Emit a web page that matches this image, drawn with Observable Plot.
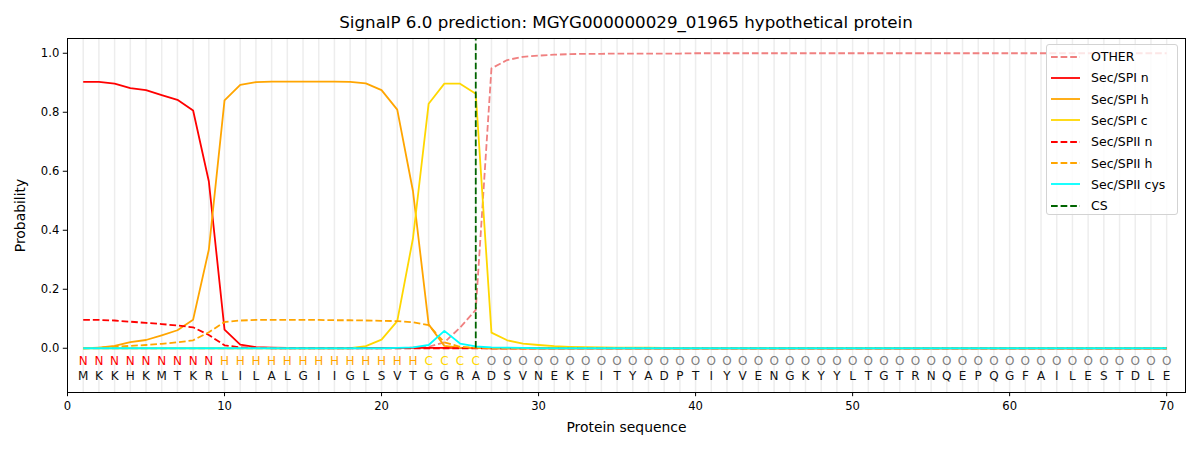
<!DOCTYPE html>
<html>
<head>
<meta charset="utf-8">
<script src="https://cdn.jsdelivr.net/npm/d3@7"></script>
<script src="https://cdn.jsdelivr.net/npm/@observablehq/plot@0.6"></script>
<style>
  body { margin: 0; background: white; font-family: "DejaVu Sans", sans-serif; }
  #wrap { position: relative; width: 1200px; height: 450px; }
  #title { box-sizing: border-box; height: 30px; padding-top: 14px; padding-left: 52px; width: 1200px;
           text-align: center; font-size: 16.7px; line-height: 16.7px; color: black; white-space: nowrap; }
  #legend { position: absolute; left: 1046px; top: 44px; width: 132px; height: 171px; box-sizing: border-box;
            border: 1px solid #d3d3d3; border-radius: 3px; background: rgba(255,255,255,0.8); }
  #legend .row { position: absolute; left: 0; height: 20px; display: flex; align-items: center; font-size: 12.5px; color: black; white-space: nowrap; }
  #legend svg { margin-left: 4px; margin-right: 11px; }
</style>
</head>
<body>
<div id="wrap">
  <div id="title">SignalP 6.0 prediction: MGYG000000029_01965 hypothetical protein</div>
  <div id="chart"></div>
  <div id="legend"></div>
</div>
<script>
// ---- data ----
const sequence = "MKKHKMTKRLILALGIIGLSVTGGRADSVNEKEITYADPTIYVENGKYYLTGTRNQEPQGFAILESTDLE".split("");
const regions  = "NNNNNNNNNHHHHHHHHHHHHHCCCCOOOOOOOOOOOOOOOOOOOOOOOOOOOOOOOOOOOOOOOOOOOO".split("");
const positions = sequence.map((_, i) => i + 1);

const other = [0,0,0,0,0,0,0,0,0,0, 0,0,0,0,0,0,0,0,0,0,
  0.001,0.002,0.005,0.020,0.070,0.130,0.949,0.977,0.988,0.992,
  0.995,0.997,0.998,0.998,0.999,0.999,0.999,0.999,0.999,1.0,
  1.0,1.0,1.0,1.0,1.0,1.0,1.0,1.0,1.0,1.0, 1.0,1.0,1.0,1.0,1.0,1.0,1.0,1.0,1.0,1.0,
  1.0,1.0,1.0,1.0,1.0,1.0,1.0,1.0,1.0,1.0];
const secSPIn = [0.903,0.903,0.897,0.882,0.875,0.858,0.842,0.806,0.566,0.063,
  0.012,0.004,0.002,0.001,0.001,0.001,0.001,0.001,0.001,0.001,
  0.001,0.001,0.001,0.001,0.001,0.001,0,0,0,0, 0,0,0,0,0,0,0,0,0,0,
  0,0,0,0,0,0,0,0,0,0, 0,0,0,0,0,0,0,0,0,0, 0,0,0,0,0,0,0,0,0,0];
const secSPIh = [0,0.002,0.008,0.021,0.028,0.044,0.061,0.097,0.334,0.840,
  0.893,0.902,0.904,0.904,0.904,0.904,0.904,0.903,0.898,0.875,
  0.809,0.533,0.081,0.008,0.002,0.001,0,0,0,0, 0,0,0,0,0,0,0,0,0,0,
  0,0,0,0,0,0,0,0,0,0, 0,0,0,0,0,0,0,0,0,0, 0,0,0,0,0,0,0,0,0,0];
const secSPIc = [0,0,0,0,0,0,0,0,0,0, 0,0,0,0,0,0,0,0,0.007,0.029,
  0.092,0.372,0.829,0.897,0.897,0.863,0.053,0.027,0.016,0.011,
  0.007,0.005,0.004,0.003,0.002,0.002,0.002,0.001,0.001,0.001,
  0.001,0.001,0.001,0.001,0.001,0.001,0.001,0.001,0.001,0.001,
  0.001,0.001,0.001,0.001,0.001,0.001,0.001,0.001,0.001,0.001,
  0.001,0.001,0.001,0.001,0.001,0.001,0.001,0.001,0.001,0.001];
const secSPIIn = [0.096,0.096,0.094,0.090,0.086,0.082,0.077,0.071,0.045,0.010,
  0.003,0.001,0,0,0,0,0,0,0,0, 0,0,0,0,0,0,0,0,0,0, 0,0,0,0,0,0,0,0,0,0,
  0,0,0,0,0,0,0,0,0,0, 0,0,0,0,0,0,0,0,0,0, 0,0,0,0,0,0,0,0,0,0];
const secSPIIh = [0,0.002,0.005,0.008,0.011,0.015,0.020,0.027,0.054,0.089,
  0.094,0.096,0.096,0.096,0.096,0.096,0.095,0.095,0.094,0.093,
  0.092,0.088,0.078,0.020,0.005,0.002,0,0,0,0, 0,0,0,0,0,0,0,0,0,0,
  0,0,0,0,0,0,0,0,0,0, 0,0,0,0,0,0,0,0,0,0, 0,0,0,0,0,0,0,0,0,0];
const secSPIIcys = [0,0,0,0,0,0,0,0,0,0, 0,0,0,0,0,0,0,0,0,0,
  0.001,0.003,0.011,0.059,0.016,0.006,0.003,0.002,0.001,0,
  0,0,0,0,0,0,0,0,0,0, 0,0,0,0,0,0,0,0,0,0, 0,0,0,0,0,0,0,0,0,0, 0,0,0,0,0,0,0,0,0,0];
const csPosition = [26];
const xTicks = [0, 10, 20, 30, 40, 50, 60, 70];
const yTicks = [0, 0.2, 0.4, 0.6, 0.8, 1.0];

const seriesNames = ["OTHER","Sec/SPI n","Sec/SPI h","Sec/SPI c","Sec/SPII n","Sec/SPII h","Sec/SPII cys","CS"];

// ---- styles ----
const LW = 1.8;
const DASH = "6.7,2.9";
const styles = {
  "OTHER":        {stroke: "lightcoral", dash: DASH},
  "Sec/SPI n":    {stroke: "red", dash: null},
  "Sec/SPI h":    {stroke: "orange", dash: null},
  "Sec/SPI c":    {stroke: "gold", dash: null},
  "Sec/SPII n":   {stroke: "red", dash: DASH},
  "Sec/SPII h":   {stroke: "orange", dash: DASH},
  "Sec/SPII cys": {stroke: "cyan", dash: null},
  "CS":           {stroke: "darkgreen", dash: DASH}
};
const regionColor = {N: "red", H: "orange", C: "gold", O: "grey"};

const table = positions.map((p, i) => ({
  pos: p, aa: sequence[i], region: regions[i],
  "OTHER": other[i], "Sec/SPI n": secSPIn[i], "Sec/SPI h": secSPIh[i], "Sec/SPI c": secSPIc[i],
  "Sec/SPII n": secSPIIn[i], "Sec/SPII h": secSPIIh[i], "Sec/SPII cys": secSPIIcys[i]
}));

const lineMarks = seriesNames.slice(0, 7).map(name => Plot.line(table, {
  x: "pos", y: name, stroke: styles[name].stroke, strokeWidth: LW,
  strokeDasharray: styles[name].dash || undefined, strokeLinejoin: "round", strokeLinecap: "butt"
}));

const chart = Plot.plot({
  width: 1200, height: 420,
  marginLeft: 67, marginRight: 15, marginTop: 8, marginBottom: 58,
  style: {fontFamily: "DejaVu Sans", fontSize: "13.9px", color: "black", background: "white", overflow: "visible"},
  x: {domain: [0, 71.2]},
  y: {domain: [-0.15, 1.05]},
  marks: [
    Plot.ruleX(positions, {x: d => d, stroke: "#ededed", strokeWidth: 1.5}),
    ...lineMarks,
    Plot.ruleX(csPosition, {x: d => d, y1: 0, y2: 1.05, stroke: styles.CS.stroke, strokeWidth: LW, strokeDasharray: DASH}),
    Plot.text(table, {x: "pos", text: "region", frameAnchor: "bottom", dy: -28, fill: d => regionColor[d.region], fontSize: 12}),
    Plot.text(table, {x: "pos", text: "aa", frameAnchor: "bottom", dy: -13, fill: "#111", fontSize: 12}),
    Plot.frame({stroke: "black", strokeWidth: 1}),
    Plot.axisX({ticks: xTicks, tickSize: 4.2, tickPadding: 5, tickFormat: d => String(d), fontSize: 11.6,
      label: null}),
    Plot.axisX({ticks: [], label: "Protein sequence", labelAnchor: "center", labelArrow: "none", labelOffset: 39, fontSize: 13.9}),
    Plot.axisY({ticks: yTicks, tickSize: 4.2, tickPadding: 4, tickFormat: d3.format(".1f"), fontSize: 11.6,
      label: null}),
    Plot.axisY({ticks: [], label: "Probability", labelAnchor: "center", labelArrow: "none", labelOffset: 52, fontSize: 13.9})
  ]
});
document.getElementById("chart").appendChild(chart);

// ---- legend ----
const legend = document.getElementById("legend");
seriesNames.forEach((name, i) => {
  const row = document.createElement("div");
  row.className = "row";
  row.style.top = (1.5 + i * 21.3) + "px";
  const s = d3.create("svg").attr("width", 29).attr("height", 6);
  s.append("line").attr("x1", 0).attr("x2", 29).attr("y1", 3).attr("y2", 3)
    .attr("stroke", styles[name].stroke).attr("stroke-width", LW)
    .attr("stroke-dasharray", styles[name].dash);
  row.appendChild(s.node());
  const t = document.createElement("span");
  t.textContent = name;
  row.appendChild(t);
  legend.appendChild(row);
});
</script>
</body>
</html>
